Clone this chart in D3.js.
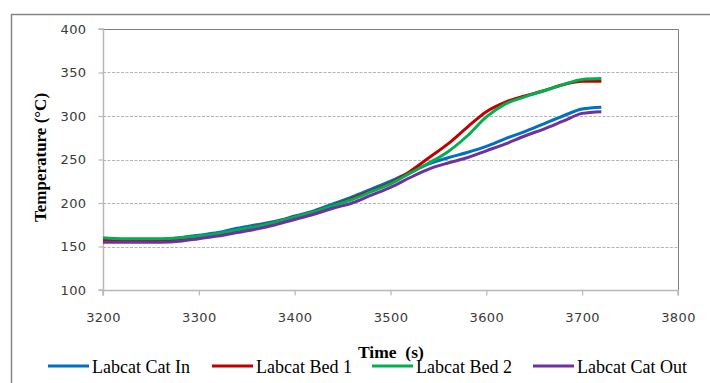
<!DOCTYPE html>
<html>
<head>
<meta charset="utf-8">
<script src="https://cdn.jsdelivr.net/npm/d3@7"></script>
<style>
  html, body { margin: 0; padding: 0; background: #fff; }
  svg { display: block; }
</style>
</head>
<body>
<svg id="chart" width="710" height="383"></svg>
<script>
// ---- data ----
const times = [3200, 3220, 3240, 3260, 3280, 3300, 3320, 3340, 3360, 3380, 3400, 3420, 3440, 3460, 3480, 3500, 3520, 3540, 3560, 3580, 3600, 3620, 3640, 3660, 3680, 3700, 3720];
const catIn  = [158, 158, 158, 158, 160, 163, 166, 171, 175, 179, 185, 191, 199, 207, 216, 225, 235, 245, 252, 258, 265, 274, 282, 291, 300, 308, 310];
const bed1   = [157, 157, 157, 157, 158, 161, 164, 168, 173, 178, 184, 190, 197, 205, 214, 223, 236, 252, 268, 287, 305, 316, 323, 329, 336, 340, 340];
const bed2   = [160, 159, 159, 159, 160, 162, 165, 169, 173, 178, 184, 190, 197, 204, 213, 222, 234, 246, 259, 277, 299, 314, 322, 329, 336, 342, 343];
const catOut = [155, 155, 155, 155, 156, 159, 162, 166, 170, 175, 181, 187, 194, 200, 209, 218, 229, 239, 246, 252, 260, 268, 277, 285, 294, 303, 305];
const seriesNames = ["Labcat Cat In", "Labcat Bed 1", "Labcat Bed 2", "Labcat Cat Out"];
const seriesColors = ["#0070C0", "#C00000", "#00B050", "#7030A0"];
const xTicks = [3200, 3300, 3400, 3500, 3600, 3700, 3800];
const yTicks = [100, 150, 200, 250, 300, 350, 400];
const xTitle = "Time  (s)";
const yTitle = "Temperature (°C)";

const seriesValues = [catIn, bed1, bed2, catOut];

// ---- layout ----
const svg = d3.select("#chart");
const L = 103, R = 678, T = 29, B = 290;

const x = d3.scaleLinear().domain([3200, 3800]).range([L, R]);
const y = d3.scaleLinear().domain([100, 400]).range([B, T]);

// outer chart frame (partially clipped)
svg.append("path")
  .attr("d", `M11.5,383 L11.5,14.5 L710,14.5`)
  .attr("fill", "none").attr("stroke", "#868686").attr("stroke-width", 1.5);

// gridlines
svg.append("g").selectAll("line")
  .data(yTicks.filter(v => v > 100 && v < 400))
  .join("line")
  .attr("x1", L).attr("x2", R)
  .attr("y1", d => Math.round(y(d)) + 0.5).attr("y2", d => Math.round(y(d)) + 0.5)
  .attr("stroke", "#b4b4b4").attr("stroke-width", 1)
  .attr("stroke-dasharray", "3,1.5");

// plot area border top/right
svg.append("path")
  .attr("d", `M${L},${T + 0.5} L${R + 0.5},${T + 0.5} L${R + 0.5},${B}`)
  .attr("fill", "none").attr("stroke", "#7f7f7f").attr("stroke-width", 1);

// axes
const yAxis = d3.axisLeft(y).tickValues(yTicks).tickSize(5).tickPadding(12).tickFormat(d3.format("d"));
const xAxis = d3.axisBottom(x).tickValues(xTicks).tickSize(5).tickPadding(17).tickFormat(d3.format("d"));

const gy = svg.append("g").attr("transform", `translate(${L + 0.5},0)`).call(yAxis);
const gx = svg.append("g").attr("transform", `translate(0,${B + 0.5})`).call(xAxis);

[gx, gy].forEach(g => {
  g.select(".domain").attr("stroke", "#b8b8b8").attr("stroke-width", 1.5);
  g.selectAll(".tick line").attr("stroke", "#b8b8b8").attr("stroke-width", 1.2);
  g.selectAll(".tick text")
    .attr("fill", "#3a3a3a")
    .style("font-family", "'DejaVu Sans', Verdana, sans-serif")
    .style("font-size", "13px")
    .style("letter-spacing", "0.4px");
});
gx.select(".domain").attr("d", `M${L},5V0H${R}V5`);
gy.select(".domain").attr("d", `M-5,${B}H0V${T}H-5`);

// lines
const line = d3.line().x((d, i) => x(times[i])).y(d => y(d)).curve(d3.curveMonotoneX);
svg.append("g").selectAll("path")
  .data(seriesValues)
  .join("path")
  .attr("d", d => line(d))
  .attr("fill", "none")
  .attr("stroke", (d, i) => seriesColors[i])
  .attr("stroke-width", 3)
  .attr("stroke-linejoin", "round")
  .attr("stroke-linecap", "butt");

// axis titles
svg.append("text")
  .attr("transform", `translate(46,${(T + B) / 2 - 2}) rotate(-90)`)
  .attr("text-anchor", "middle")
  .style("font-family", "'Liberation Serif', 'Times New Roman', serif")
  .style("font-weight", "bold")
  .style("font-size", "17px")
  .attr("fill", "#000")
  .text(yTitle);

svg.append("text")
  .attr("x", 358).attr("y", 358)
  .style("font-family", "'Liberation Serif', 'Times New Roman', serif")
  .style("font-weight", "bold")
  .style("font-size", "17.5px")
  .style("white-space", "pre")
  .attr("fill", "#000")
  .text(xTitle);

// legend
const legendX = [48, 212, 372, 533];
const lg = svg.append("g").selectAll("g")
  .data(seriesNames)
  .join("g")
  .attr("transform", (d, i) => `translate(${legendX[i]},366)`);
lg.append("line")
  .attr("x1", 0).attr("x2", 41).attr("y1", 0).attr("y2", 0)
  .attr("stroke", (d, i) => seriesColors[i]).attr("stroke-width", 3);
lg.append("text")
  .attr("x", 44).attr("y", 7)
  .style("font-family", "'Liberation Serif', 'Times New Roman', serif")
  .style("font-size", "18px")
  .attr("fill", "#000")
  .text(d => d);
</script>
</body>
</html>
